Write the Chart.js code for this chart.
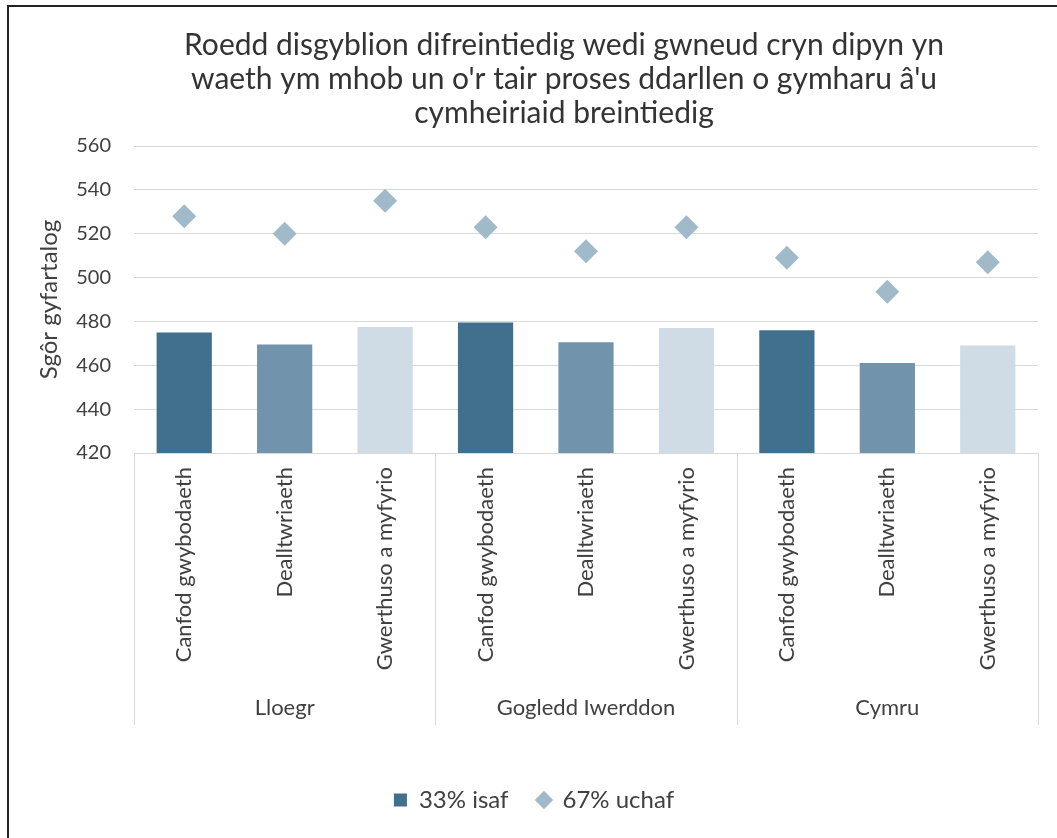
<!DOCTYPE html>
<html>
<head>
<meta charset="utf-8">
<script src="https://cdn.jsdelivr.net/npm/chart.js@4/dist/chart.umd.min.js"></script>
<style>
  html, body { margin: 0; padding: 0; background: #fff; }
  #wrap { position: relative; width: 1057px; height: 838px; overflow: hidden; }
  #frame { position: absolute; left: 7px; top: 5px; width: 1100px; height: 900px;
           border-left: 2px solid #222; border-top: 2px solid #222; }
  canvas { position: absolute; left: 0; top: 0; }
</style>
</head>
<body>
<div id="wrap">
  <div id="frame"></div>
  <canvas id="chart" width="1057" height="838"></canvas>
</div>
<script>
const titleLines = [
    "Roedd disgyblion difreintiedig wedi gwneud cryn dipyn yn",
    "waeth ym mhob un o'r tair proses ddarllen o gymharu â'u",
    "cymheiriaid breintiedig"
];
const groups = ["Lloegr", "Gogledd Iwerddon", "Cymru"];
const processes = ["Canfod gwybodaeth", "Dealltwriaeth", "Gwerthuso a myfyrio"];
const lower33 = [475, 469.5, 477.5, 479.5, 470.5, 477, 476, 461, 469];
const upper67 = [528, 520, 535, 523, 512, 523, 509, 493.5, 507];
const yTicks = [420, 440, 460, 480, 500, 520, 540, 560];
const yTitle = "Sgôr gyfartalog";

const processColors = ["#41708f", "#7194ac", "#cfdce5"];
const FONT = "Lato, 'Liberation Sans', sans-serif";
const TEXT = "#404040";
const GROUP_AXIS_H = 272;

const labels = [];
const barColors = [];
groups.forEach(() => {
    processes.forEach((p, i) => {
        labels.push(p);
        barColors.push(processColors[i]);
    });
});

// title sits a bit right of the plot centre, like the original, so draw it here
const titlePlugin = {
    id: 'sideTitle',
    afterDraw(chart) {
        const ctx = chart.ctx;
        ctx.save();
        ctx.fillStyle = "#333";
        ctx.font = "30px " + FONT;
        ctx.textAlign = "center";
        ctx.textBaseline = "middle";
        titleLines.forEach((line, i) => ctx.fillText(line, 564, 45 + i * 34));
        ctx.restore();
    }
};

// draws the group dividers and group names under the rotated labels
const groupPlugin = {
    id: 'groups',
    afterDraw(chart) {
        const ctx = chart.ctx;
        const x = chart.scales.x;
        const top = chart.chartArea.bottom;
        const bottom = top + GROUP_AXIS_H;
        const n = processes.length;
        ctx.save();
        ctx.strokeStyle = "#d9d9d9";
        ctx.lineWidth = 1;
        for (let g = 0; g <= groups.length; g++) {
            let px;
            if (g === 0) px = chart.chartArea.left;
            else if (g === groups.length) px = chart.chartArea.right;
            else px = (x.getPixelForValue(g * n - 1) + x.getPixelForValue(g * n)) / 2;
            px = Math.round(px) + 0.5;
            ctx.beginPath();
            ctx.moveTo(px, top);
            ctx.lineTo(px, bottom);
            ctx.stroke();
        }
        ctx.fillStyle = TEXT;
        ctx.font = "22px " + FONT;
        ctx.textAlign = "center";
        ctx.textBaseline = "middle";
        groups.forEach((name, g) => {
            const cx = x.getPixelForValue(g * n + (n - 1) / 2);
            ctx.fillText(name, cx, bottom - 17);
        });
        ctx.restore();
    }
};

new Chart(document.getElementById("chart").getContext("2d"), {
    data: {
        labels: labels,
        datasets: [{
            type: 'bar',
            label: '33% isaf',
            data: lower33,
            backgroundColor: barColors,
            barPercentage: 1,
            categoryPercentage: 0.55,
            pointStyle: 'rect'
        }, {
            type: 'line',
            label: '67% uchaf',
            data: upper67,
            showLine: false,
            pointStyle: 'rectRot',
            pointRadius: 12,
            pointHoverRadius: 12,
            backgroundColor: '#a1baca',
            borderColor: '#a1baca',
            borderWidth: 0
        }]
    },
    options: {
        responsive: false,
        animation: false,
        layout: { padding: { left: 30, right: 19, top: 146, bottom: 16 } },
        plugins: {
            tooltip: { enabled: false },
            title: { display: false },
            legend: {
                position: 'bottom',
                labels: {
                    color: TEXT,
                    font: { family: FONT, size: 24 },
                    usePointStyle: true,
                    boxWidth: 13,
                    boxHeight: 13,
                    padding: 29
                }
            }
        },
        scales: {
            x: {
                grid: { display: false },
                border: { display: true, color: "#d9d9d9" },
                ticks: {
                    color: TEXT,
                    font: { family: FONT, size: 22 },
                    minRotation: 90,
                    maxRotation: 90,
                    autoSkip: false,
                    padding: 6
                },
                afterFit(scale) { scale.height = GROUP_AXIS_H + 34; }
            },
            y: {
                min: yTicks[0],
                max: yTicks[yTicks.length - 1],
                afterBuildTicks(scale) { scale.ticks = yTicks.map(v => ({ value: v })); },
                grid: { color: "#d9d9d9", drawTicks: false },
                border: { display: false },
                ticks: {
                    color: TEXT,
                    font: { family: FONT, size: 20 },
                    padding: 23
                },
                title: {
                    display: true,
                    text: yTitle,
                    color: TEXT,
                    font: { family: FONT, size: 24 },
                    padding: { top: 5, bottom: 0 }
                },
                afterFit(scale) { scale.width = 134 - 30; }
            }
        }
    },
    plugins: [groupPlugin, titlePlugin]
});
</script>
</body>
</html>
